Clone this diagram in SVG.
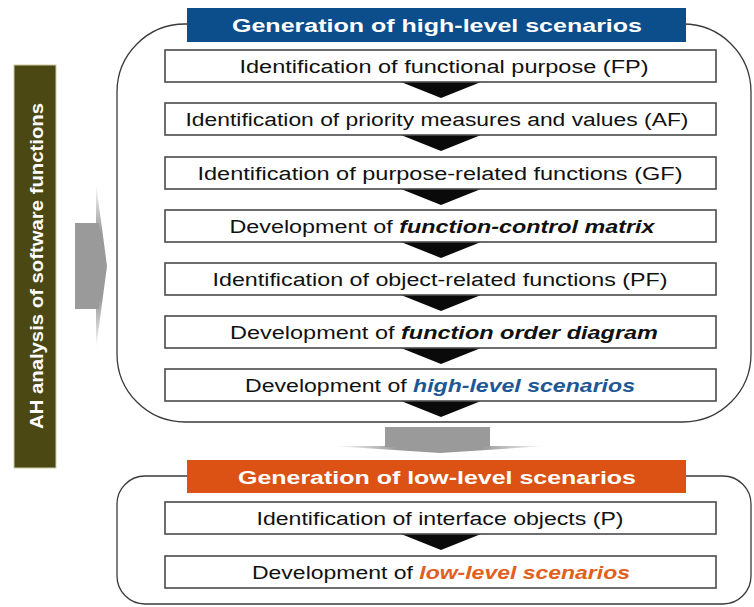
<svg xmlns="http://www.w3.org/2000/svg" width="754" height="607" viewBox="0 0 754 607">
  <defs>
    <style>
      .frame { fill: none; stroke: #3a3a3a; stroke-width: 1.3; }
      .step { fill: #ffffff; stroke: #4a4a4a; stroke-width: 1.6; }
      .txt { font-family: "Liberation Sans", Arial, sans-serif; font-size: 18px; fill: #111111; text-anchor: middle; }
      .em { font-weight: bold; font-style: italic; }
      .title { font-family: "Liberation Sans", Arial, sans-serif; font-size: 18px; font-weight: bold; fill: #ffffff; text-anchor: middle; }
      .side { font-size: 19px; }
      .flow { fill: #0a0a0a; }
    </style>
    <linearGradient id="fadeH" x1="0" y1="0" x2="1" y2="0">
      <stop offset="0" stop-color="#9a9a9a" stop-opacity="0"/>
      <stop offset="0.3" stop-color="#9a9a9a"/>
      <stop offset="0.7" stop-color="#9a9a9a"/>
      <stop offset="1" stop-color="#9a9a9a" stop-opacity="0"/>
    </linearGradient>
    <linearGradient id="fadeV" x1="0" y1="0" x2="0" y2="1">
      <stop offset="0" stop-color="#9a9a9a" stop-opacity="0"/>
      <stop offset="0.3" stop-color="#9a9a9a"/>
      <stop offset="0.7" stop-color="#9a9a9a"/>
      <stop offset="1" stop-color="#9a9a9a" stop-opacity="0"/>
    </linearGradient>
  </defs>

  <rect width="754" height="607" fill="#ffffff"/>

  <!-- side label bar -->
  <g id="ah-analysis">
    <rect x="14" y="65" width="42" height="403" fill="#4b4814" stroke="#cfcaa0" stroke-width="1"/>
    <text class="title side" transform="translate(43,266) rotate(-90)" x="0" y="0" textLength="326" lengthAdjust="spacingAndGlyphs">AH analysis of software functions</text>
  </g>

  <!-- high-level phase frame -->
  <g id="high-level-phase">
    <rect class="frame" x="117" y="24" width="634" height="398" rx="68" ry="68"/>
    <rect x="187" y="8" width="499" height="34" fill="#0c4d8b"/>
    <text class="title" x="437" y="31.5" textLength="410" lengthAdjust="spacingAndGlyphs">Generation of high-level scenarios</text>
  </g>

  <!-- low-level phase frame -->
  <g id="low-level-phase">
    <rect class="frame" x="117" y="476" width="634" height="128" rx="28" ry="28"/>
    <rect x="187" y="460" width="499" height="33" fill="#db5214"/>
    <text class="title" x="437" y="483.5" textLength="398" lengthAdjust="spacingAndGlyphs">Generation of low-level scenarios</text>
  </g>

  <!-- connectors -->
  <g id="connectors">
    <polygon class="flow" points="401,82 481,82 441,98"/>
    <polygon class="flow" points="401,135 481,135 441,151"/>
    <polygon class="flow" points="401,189 481,189 441,205"/>
    <polygon class="flow" points="401,242 481,242 441,258"/>
    <polygon class="flow" points="401,295 481,295 441,311"/>
    <polygon class="flow" points="401,348 481,348 441,364"/>
    <polygon class="flow" points="401,401 481,401 441,417"/>
    <polygon class="flow" points="401,534 481,534 441,550"/>
    <!-- block arrow between phases -->
    <rect x="385" y="427" width="105" height="20" fill="#9a9a9a"/>
    <polygon points="333,446 547,446 440,453" fill="url(#fadeH)"/>
    <!-- block arrow from side label -->
    <rect x="75" y="223" width="24" height="86" fill="#9a9a9a"/>
    <polygon points="96,183 107,266 96,349" fill="url(#fadeV)"/>
  </g>

  <g id="step-fp">
    <rect class="step" x="165" y="50" width="551" height="32"/>
    <text class="txt" x="444" y="73" textLength="409" lengthAdjust="spacingAndGlyphs">Identification of functional purpose (FP)</text>
  </g>
  <g id="step-af">
    <rect class="step" x="165" y="103" width="551" height="32"/>
    <text class="txt" x="437" y="126" textLength="503" lengthAdjust="spacingAndGlyphs">Identification of priority measures and values (AF)</text>
  </g>
  <g id="step-gf">
    <rect class="step" x="165" y="157" width="551" height="32"/>
    <text class="txt" x="440" y="180" textLength="485" lengthAdjust="spacingAndGlyphs">Identification of purpose-related functions (GF)</text>
  </g>
  <g id="step-matrix">
    <rect class="step" x="165" y="210" width="551" height="32"/>
    <text class="txt" x="442" y="233" textLength="425" lengthAdjust="spacingAndGlyphs">Development of <tspan class="em">function-control matrix</tspan></text>
  </g>
  <g id="step-pf">
    <rect class="step" x="165" y="263" width="551" height="32"/>
    <text class="txt" x="440" y="286" textLength="455" lengthAdjust="spacingAndGlyphs">Identification of object-related functions (PF)</text>
  </g>
  <g id="step-order">
    <rect class="step" x="165" y="316" width="551" height="32"/>
    <text class="txt" x="444" y="339" textLength="428" lengthAdjust="spacingAndGlyphs">Development of <tspan class="em">function order diagram</tspan></text>
  </g>
  <g id="step-high">
    <rect class="step" x="165" y="369" width="551" height="32"/>
    <text class="txt" x="440" y="392" textLength="390" lengthAdjust="spacingAndGlyphs">Development of <tspan class="em" fill="#1d5796">high-level scenarios</tspan></text>
  </g>
  <g id="step-p">
    <rect class="step" x="165" y="502" width="551" height="32"/>
    <text class="txt" x="440" y="525" textLength="367" lengthAdjust="spacingAndGlyphs">Identification of interface objects (P)</text>
  </g>
  <g id="step-low">
    <rect class="step" x="165" y="556" width="551" height="32"/>
    <text class="txt" x="441" y="579" textLength="378" lengthAdjust="spacingAndGlyphs">Development of <tspan class="em" fill="#e0601c">low-level scenarios</tspan></text>
  </g>
</svg>
